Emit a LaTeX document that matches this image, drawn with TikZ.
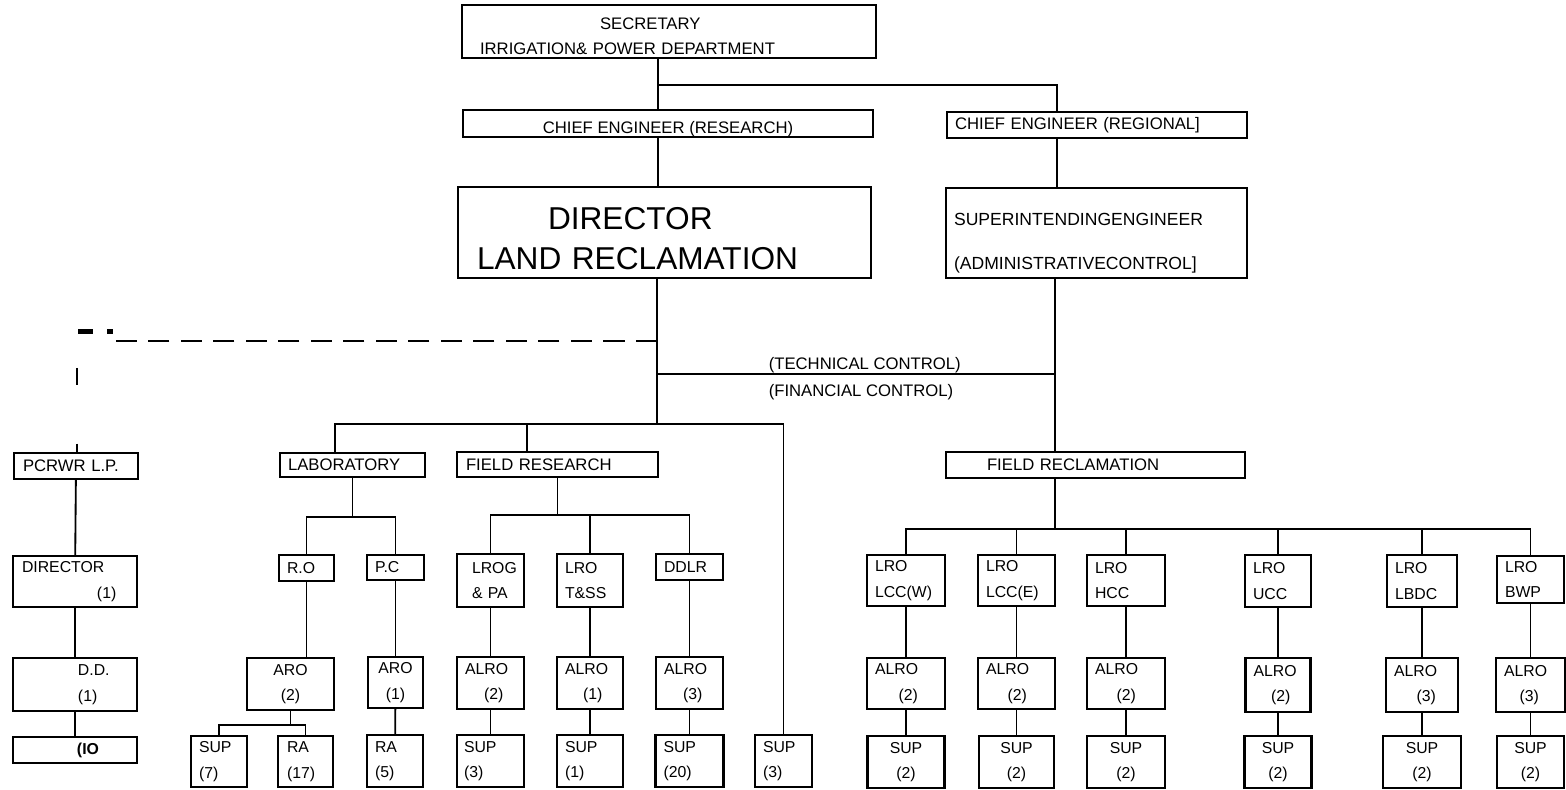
\documentclass[tikz,border=0pt]{standalone}
\usepackage{fontspec}
\setmainfont{Liberation Sans}

\tikzset{
  unit/.style={draw, rectangle, line width=1.25pt, inner sep=0pt, align=left, font=\fontsize{9}{14.5}\selectfont},
  head/.style={unit, font=\fontsize{9.5}{14.2}\selectfont},
  dashline/.style={line width=0.9pt, dash pattern=on 12pt off 6.5pt},
}

\begin{document}
\begin{tikzpicture}[x=0.02cm, y=-0.02cm, line width=1.05pt]
	\useasboundingbox (0,0) rectangle (1566,789);

	% top of the chart
	\node[head, minimum width=8.28cm, minimum height=1.06cm, text width=7.56cm] (sec) at (669,31.5) {\rule{0pt}{11.5pt}\hspace*{2.4cm}SECRETARY\\IRRIGATION\& POWER DEPARTMENT};
	\node[head, minimum width=8.2cm, minimum height=0.54cm, align=center, text height=13pt] (cer) at (668,123.5) {CHIEF ENGINEER (RESEARCH)};
	\node[head, minimum width=6cm, minimum height=0.52cm, text width=5.68cm] (ceg) at (1097,125) {CHIEF ENGINEER (REGIONAL]};
	\node[unit, minimum width=8.26cm, minimum height=1.82cm, text width=7.5cm, font=\fontsize{18}{22.7}\selectfont] (dir) at (664.5,232.5) {\rule{0pt}{20pt}\hspace*{1.42cm}DIRECTOR\\LAND RECLAMATION};
	\node[unit, minimum width=6.02cm, minimum height=1.8cm, text width=5.7cm, font=\fontsize{10}{25.5}\selectfont] (se) at (1096.5,233) {\rule{0pt}{18.5pt}SUPERINTENDINGENGINEER\\(ADMINISTRATIVECONTROL]};

	\node[anchor=west, font=\fontsize{9.5}{11}\selectfont] (tech) at (762,365) {(TECHNICAL CONTROL)};
	\node[anchor=west, font=\fontsize{9.5}{11}\selectfont] (fin) at (762,392) {(FINANCIAL CONTROL)};

	% sections
	\node[head, minimum width=2.48cm, minimum height=0.52cm, text width=2.12cm] (pcr) at (76,466) {PCRWR L.P.};
	\node[head, minimum width=2.9cm, minimum height=0.48cm, text width=2.58cm] (lab) at (352.5,465) {LABORATORY};
	\node[head, minimum width=4.02cm, minimum height=0.5cm, text width=3.66cm] (fres) at (557.5,464.5) {FIELD RESEARCH};
	\node[head, minimum width=5.98cm, minimum height=0.52cm, text width=4.34cm] (frec) at (1095.5,465) {FIELD RECLAMATION};

	% PCRWR column
	\node[unit, minimum width=2.48cm, minimum height=1.02cm, text width=2.12cm] (dirl) at (75,581.5) {DIRECTOR\\\hspace*{1.5cm}(1)};
	\node[unit, below of=dirl, node distance=2.06cm, minimum width=2.48cm, minimum height=1.06cm, text width=2.12cm] (dd) {\hspace*{1.12cm}D.D.\\\hspace*{1.12cm}(1)};
	\node[unit, minimum width=2.48cm, minimum height=0.52cm, text width=2.12cm] (io) at (75,750) {\hspace*{1.1cm}\textbf{(IO}};

	% laboratory
	\node[unit, minimum width=1.1cm, minimum height=0.52cm, text width=0.78cm] (ro) at (306.5,568) {R.O};
	\node[unit, minimum width=1.14cm, minimum height=0.5cm, text width=0.82cm] (pc) at (395.5,567.5) {P.C};
	\node[unit, minimum width=1.74cm, minimum height=1.04cm, align=center] (aro2) at (290.5,684) {ARO\\(2)};
	\node[unit, minimum width=1.1cm, minimum height=1.02cm, align=center] (aro1) at (395.5,682.5) {ARO\\(1)};
	\node[unit, minimum width=1.12cm, minimum height=1.02cm, text width=0.8cm] (sup7) at (219,761.5) {SUP\\(7)};
	\node[unit, minimum width=1.1cm, minimum height=1.02cm, text width=0.74cm] (ra17) at (305.5,761.5) {RA\\(17)};
	\node[unit, minimum width=1.12cm, minimum height=1.04cm, text width=0.8cm] (ra5) at (395,761) {RA\\(5)};

	% field research
	\node[unit, minimum width=1.34cm, minimum height=1.06cm, text width=1.06cm] (lrog) at (490.5,580.5) {\hspace*{0.16cm}LROG\\\hspace*{0.16cm}\& PA};
	\node[unit, minimum width=1.32cm, minimum height=1.06cm, text width=1cm] (lrot) at (590,580.5) {LRO\\T\&SS};
	\node[unit, minimum width=1.34cm, minimum height=0.52cm, text width=1.02cm] (ddlr) at (689.5,567) {DDLR};
	\node[unit, below of=lrog, node distance=2.05cm, minimum width=1.34cm, minimum height=1.04cm, text width=1.02cm] (alg) {ALRO\\\hspace*{0.38cm}(2)};
	\node[unit, below of=lrot, node distance=2.05cm, minimum width=1.32cm, minimum height=1.04cm, text width=1cm] (alt) {ALRO\\\hspace*{0.36cm}(1)};
	\node[unit, minimum width=1.34cm, minimum height=1.04cm, text width=1.02cm] (ald) at (689.5,683) {ALRO\\\hspace*{0.38cm}(3)};
	\node[unit, below of=alg, node distance=1.56cm, minimum width=1.34cm, minimum height=1.04cm, text width=1.06cm] (sug) {SUP\\(3)};
	\node[unit, below of=alt, node distance=1.56cm, minimum width=1.32cm, minimum height=1.04cm, text width=1cm] (sut) {SUP\\(1)};
	\node[unit, below of=ald, node distance=1.56cm, minimum width=1.36cm, minimum height=1.04cm, text width=1.04cm] (sud) {SUP\\(20)};
	\node[unit, minimum width=1.14cm, minimum height=1.04cm, text width=0.82cm] (sux) at (783.5,761) {SUP\\(3)};

	% field reclamation
	\node[unit, minimum width=1.56cm, minimum height=1.02cm, text width=1.24cm] (lrw) at (906,580.5) {LRO\\LCC(W)};
	\node[unit, minimum width=1.54cm, minimum height=1.02cm, text width=1.22cm] (lre) at (1016.5,580.5) {LRO\\LCC(E)};
	\node[unit, minimum width=1.56cm, minimum height=1.02cm, text width=1.24cm] (lrh) at (1126,580.5) {LRO\\HCC};
	\node[unit, minimum width=1.32cm, minimum height=1.04cm, text width=1cm] (lru) at (1278,581) {LRO\\UCC};
	\node[unit, minimum width=1.4cm, minimum height=1.04cm, text width=1.08cm] (lrl) at (1422,581) {LRO\\LBDC};
	\node[unit, minimum width=1.34cm, minimum height=0.94cm, text width=1.02cm] (lrb) at (1530.5,579.5) {LRO\\BWP};

	\node[unit, below of=lrw, node distance=2.06cm, minimum width=1.56cm, minimum height=1.02cm, text width=1.24cm] (alw) {ALRO\\\hspace*{0.47cm}(2)};
	\node[unit, below of=lre, node distance=2.06cm, minimum width=1.54cm, minimum height=1.02cm, text width=1.22cm] (ale) {ALRO\\\hspace*{0.43cm}(2)};
	\node[unit, below of=lrh, node distance=2.06cm, minimum width=1.56cm, minimum height=1.02cm, text width=1.24cm] (alh) {ALRO\\\hspace*{0.43cm}(2)};
	\node[unit, below of=lru, node distance=2.08cm, minimum width=1.3cm, minimum height=1.08cm, text width=0.98cm] (alu) {ALRO\\\hspace*{0.35cm}(2)};
	\node[unit, below of=lrl, node distance=2.08cm, minimum width=1.44cm, minimum height=1.08cm, text width=1.12cm] (all) {ALRO\\\hspace*{0.45cm}(3)};
	\node[unit, below of=lrb, node distance=2.11cm, minimum width=1.38cm, minimum height=1.08cm, text width=1.06cm] (alb) {ALRO\\\hspace*{0.31cm}(3)};

	\node[unit, below of=alw, node distance=1.57cm, minimum width=1.54cm, minimum height=1.04cm, align=center] (suw) {SUP\\(2)};
	\node[unit, below of=ale, node distance=1.57cm, minimum width=1.5cm, minimum height=1.04cm, align=center] (sue) {SUP\\(2)};
	\node[unit, below of=alh, node distance=1.57cm, minimum width=1.56cm, minimum height=1.04cm, align=center] (suh) {SUP\\(2)};
	\node[unit, below of=alu, node distance=1.54cm, minimum width=1.34cm, minimum height=1.04cm, align=center] (suu) {SUP\\(2)};
	\node[unit, below of=all, node distance=1.54cm, minimum width=1.56cm, minimum height=1.04cm, align=center] (sul) {SUP\\(2)};
	\node[unit, below of=alb, node distance=1.54cm, minimum width=1.34cm, minimum height=1.04cm, align=center] (sub) {SUP\\(2)};

	% connectors, top
	\coordinate (sj) at (658,85);
	\coordinate (rj) at (1057,85);
	\draw (sj |- sec.south) -- (sj |- cer.north);
	\draw (sj) -- (rj) -- (rj |- ceg.north);
	\draw (sj |- cer.south) -- (sj |- dir.north);
	\draw (rj |- ceg.south) -- (rj |- se.north);

	% trunks and control line
	\coordinate (lt) at (657,424);
	\coordinate (rt) at (1055,529);
	\coordinate (tc) at (657,374);
	\draw (lt |- dir.south) -- (lt);
	\draw (tc) -- (tc -| rt);
	\draw (rt |- se.south) -- (rt |- frec.north);
	\draw (rt |- frec.south) -- (rt);

	\coordinate (lb) at (335,424);
	\coordinate (fb) at (527,424);
	\draw (lb |- lab.north) -- (lb) -- (sux.north |- lt) -- (sux.north);
	\draw (fb) -- (fb |- fres.north);

	% dashed link to PCRWR
	\coordinate (dj) at (657,341);
	\coordinate (dk) at (112,341);
	\coordinate (dc) at (77,341);
	\draw[dashline] (dj) -- (dk);
	\draw[dash pattern=on 0pt off 15.3pt on 9.6pt off 33.5pt on 6pt] (dc) -- (dc |- pcr.north);
	\fill (78,329) rectangle (93,334);
	\fill (107,329) rectangle (113,334);

	% PCRWR column
	\path (pcr) edge (dirl);
	\path (dirl) edge (dd);
	\path (dd) edge (io);

	% laboratory
	\coordinate (labbus) at (0,517);
	\coordinate (arobus) at (0,725);
	\draw (lab.south) -- (lab.south |- labbus);
	\draw (ro.north) |- (pc.north |- labbus) -- (pc.north);
	\draw (ro.south) -- (ro.south |- aro2.north);
	\path (pc) edge (aro1);
	\draw (aro2.south) -- (aro2.south |- arobus);
	\draw (sup7.north) |- (ra17.north |- arobus) -- (ra17.north);
	\path (aro1) edge (ra5);

	% field research
	\coordinate (fresbus) at (0,515);
	\draw (fres.south) -- (fres.south |- fresbus);
	\draw (lrog.north) |- (ddlr.north |- fresbus) -- (ddlr.north);
	\draw (lrot.north) -- (lrot.north |- fresbus);
	\draw (ddlr.south) -- (ddlr.south |- ald.north);
	\foreach \a/\b/\c in {lrog/alg/sug, lrot/alt/sut}
		\path (\a) edge (\b) (\b) edge (\c);
	\path (ald) edge (sud);

	% field reclamation
	\coordinate (recbus) at (0,529);
	\draw (lrw.north) |- (lrb.north |- recbus) -- (lrb.north);
	\foreach \n in {lre,lrh,lru,lrl}
		\draw (\n.north) -- (\n.north |- recbus);
	\foreach \a/\b/\c in {lrw/alw/suw, lre/ale/sue, lrh/alh/suh, lru/alu/suu, lrl/all/sul, lrb/alb/sub}
		\path (\a) edge (\b) (\b) edge (\c);
\end{tikzpicture}
\end{document}
